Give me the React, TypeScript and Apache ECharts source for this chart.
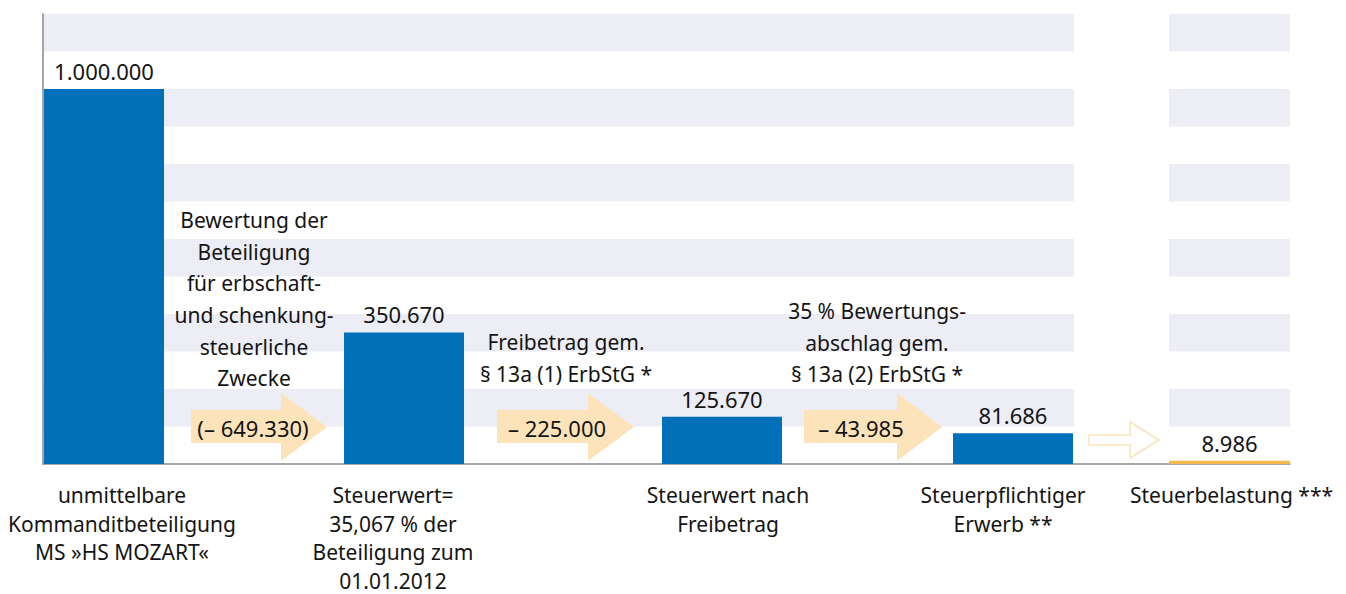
import React, { useEffect, useRef } from "react";
import * as echarts from "echarts";

// ---- data ----
const categories: string[] = [
  "unmittelbare\nKommanditbeteiligung\nMS »HS MOZART«",
  "Steuerwert=\n35,067 % der\nBeteiligung zum\n01.01.2012",
  "Steuerwert nach\nFreibetrag",
  "Steuerpflichtiger\nErwerb **",
  "Steuerbelastung ***",
];
const values: number[] = [1000000, 350670, 125670, 81686, 8986];
const stepLabels: string[] = ["(– 649.330)", "– 225.000", "– 43.985"];
const stepNotes: string[] = [
  "Bewertung der\nBeteiligung\nfür erbschaft-\nund schenkung-\nsteuerliche\nZwecke",
  "Freibetrag gem.\n§ 13a (1) ErbStG *",
  "35 % Bewertungs-\nabschlag gem.\n§ 13a (2) ErbStG *",
];
const yMin = 0;
const yMax = 1200000;
const yInterval = 100000;

// ---- layout / style ----
const FONT = "Noto Sans";
const TEXT = "#141414";
const BLUE = "#0070B8";
const ORANGE = "#F4B84F";
const BEIGE = "#FCE3BA";
const STRIPE = "#EDEDF6";
const AXIS = "#8a8a8a";
const GRID_TOP = 14;
const GRID_H = 450;
const barLefts = [44, 344, 662, 953, 1169];
const barWidths = [120, 120, 120, 120, 121];
const labelShift = [18, -11, 6, -10, 2];
const barColors = [BLUE, BLUE, BLUE, BLUE, ORANGE];
// arrows: x0 body start, x1 head base, tip, body top/bottom, head top/bottom
const arrowLayout = [
  { x0: 191, x1: 281, tip: 327, bt: 410, bb: 443, ht: 393, hb: 461, filled: true },
  { x0: 497, x1: 588, tip: 634, bt: 410, bb: 443, ht: 393, hb: 461, filled: true },
  { x0: 804, x1: 897, tip: 942, bt: 410, bb: 443, ht: 393, hb: 461, filled: true },
  { x0: 1089, x1: 1130, tip: 1159, bt: 435, bb: 445, ht: 422, hb: 458, filled: false },
];
const stepLabelPos = [
  { x: 253, y: 428 },
  { x: 557, y: 428 },
  { x: 861, y: 428 },
];
const notePos = [
  { x: 254, y: 204 },
  { x: 566, y: 326 },
  { x: 877, y: 295 },
];

const fmt = (v: number) => String(v).replace(/\B(?=(\d{3})+(?!\d))/g, ".");

function arrowPoints(a: any) {
  const mid = (a.ht + a.hb) / 2;
  return [
    [a.x0, a.bt],
    [a.x1, a.bt],
    [a.x1, a.ht],
    [a.tip, mid],
    [a.x1, a.hb],
    [a.x1, a.bb],
    [a.x0, a.bb],
  ];
}

export default function App() {
  const ref = useRef<HTMLDivElement>(null);
  useEffect(() => {
    if (!ref.current) return;
    const chart = echarts.init(ref.current, undefined, { renderer: "svg" });

    const grids: any[] = [
      { left: 43, top: GRID_TOP, width: 1247, height: GRID_H, outerBoundsMode: "none", containLabel: false },
      ...barLefts.map((l, i) => ({
        left: l,
        top: GRID_TOP,
        width: barWidths[i],
        height: GRID_H,
        outerBoundsMode: "none",
        containLabel: false,
      })),
    ];
    const xAxes: any[] = [
      {
        type: "category",
        gridIndex: 0,
        data: [""],
        axisLine: { show: true, lineStyle: { color: AXIS, width: 1.5 } },
        axisTick: { show: false },
        axisLabel: { show: false },
      },
      ...categories.map((c, i) => ({
        type: "category",
        gridIndex: i + 1,
        data: [c],
        axisLine: { show: false },
        axisTick: { show: false },
        axisLabel: {
          show: true,
          interval: 0,
          margin: 17,
          fontFamily: FONT,
          fontSize: 21,
          lineHeight: 28.5,
          color: TEXT,
          padding: labelShift[i] >= 0 ? [0, 0, 0, labelShift[i] * 2] : [0, -labelShift[i] * 2, 0, 0],
        },
      })),
    ];
    const yAxes: any[] = [
      {
        type: "value",
        gridIndex: 0,
        min: yMin,
        max: yMax,
        interval: yInterval,
        axisLine: { show: true, lineStyle: { color: AXIS, width: 1.5 } },
        axisTick: { show: false },
        axisLabel: { show: false },
        splitLine: { show: false },
        splitArea: { show: true, areaStyle: { color: ["rgba(0,0,0,0)", STRIPE] } },
      },
      ...categories.map((_, i) => ({
        type: "value",
        gridIndex: i + 1,
        min: yMin,
        max: yMax,
        interval: yInterval,
        show: false,
        splitLine: { show: false },
      })),
    ];
    const series: any[] = values.map((v, i) => ({
      type: "bar",
      xAxisIndex: i + 1,
      yAxisIndex: i + 1,
      barWidth: "100%",
      data: [v],
      itemStyle: { color: barColors[i] },
      label: {
        show: true,
        position: "top",
        distance: 7,
        formatter: (p: any) => fmt(p.value),
        fontFamily: FONT,
        fontSize: 22,
        color: TEXT,
      },
    }));

    const graphic: any[] = [
      {
        type: "rect",
        z: 1,
        shape: { x: 1074, y: GRID_TOP - 1, width: 95, height: GRID_H },
        style: { fill: "#ffffff" },
      },
      ...arrowLayout.map((a) => ({
        type: "polygon",
        z: 5,
        shape: { points: arrowPoints(a) },
        style: a.filled
          ? { fill: BEIGE }
          : { fill: "#ffffff", stroke: BEIGE, lineWidth: 1.6 },
      })),
      ...stepLabels.map((t, i) => ({
        type: "text",
        z: 6,
        x: stepLabelPos[i].x,
        y: stepLabelPos[i].y,
        style: {
          text: t,
          fill: TEXT,
          fontFamily: FONT,
          fontSize: 22,
          align: "center",
          verticalAlign: "middle",
          textAlign: "center",
          textVerticalAlign: "middle",
        },
      })),
      ...stepNotes.map((t, i) => ({
        type: "text",
        z: 6,
        x: notePos[i].x,
        y: notePos[i].y,
        style: {
          text: t,
          fill: TEXT,
          fontFamily: FONT,
          fontSize: 21,
          lineHeight: 31.7,
          align: "center",
          verticalAlign: "top",
          textAlign: "center",
          textVerticalAlign: "top",
        },
      })),
    ];

    chart.setOption({
      animation: false,
      backgroundColor: "#ffffff",
      textStyle: { fontFamily: FONT },
      grid: grids,
      xAxis: xAxes,
      yAxis: yAxes,
      series,
      graphic,
    });
    return () => chart.dispose();
  }, []);
  return (
    <div
      ref={ref}
      style={{ position: "fixed", left: 0, top: 0, width: 1346, height: 594, background: "#fff" }}
    />
  );
}
